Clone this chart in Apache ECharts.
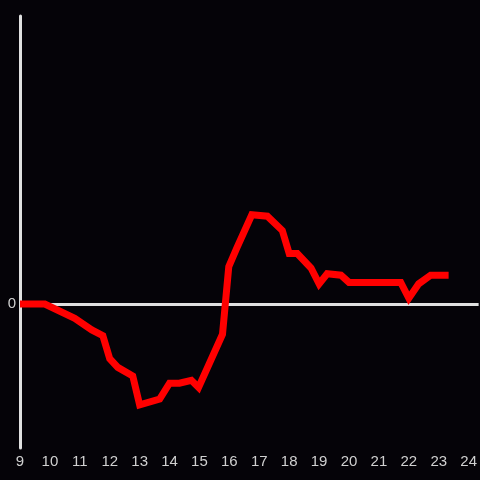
<!DOCTYPE html>
<html><head><meta charset="utf-8">
<script src="https://cdn.jsdelivr.net/npm/echarts@6/dist/echarts.min.js"></script>
<style>html,body{margin:0;padding:0;background:#050308}#c{width:480px;height:480px}</style>
</head><body><div id="c"></div>
<script>
const hours = [9.0, 9.83, 10.83, 11.4, 11.77, 12.0, 12.27, 12.77, 13.0, 13.67, 14.0, 14.33, 14.73, 14.97, 15.77, 15.98, 16.25, 16.75, 17.27, 17.77, 18.0, 18.27, 18.73, 19.0, 19.27, 19.73, 20.0, 21.73, 22.0, 22.33, 22.73, 23.33];
const values = [0, 0, -0.10, -0.18, -0.22, -0.38, -0.44, -0.50, -0.70, -0.66, -0.55, -0.55, -0.53, -0.58, -0.21, 0.26, 0.39, 0.62, 0.61, 0.51, 0.35, 0.35, 0.25, 0.14, 0.21, 0.20, 0.15, 0.15, 0.04, 0.14, 0.20, 0.20];
const xTicks = [9,10,11,12,13,14,15,16,17,18,19,20,21,22,23,24];
const yLabels = [0];

const chart = echarts.init(document.getElementById('c'), null, {renderer:'canvas'});
chart.setOption({
  backgroundColor:'#050308',
  animation:false,
  grid:{left:20,right:0,top:16,bottom:32,containLabel:false},
  xAxis:{type:'value',min:9,max:24+1/3,interval:1,
    axisLine:{show:false},axisTick:{show:false},splitLine:{show:false},
    axisLabel:{color:'#d0d0d0',fontSize:15,fontFamily:'Liberation Sans, Arial, sans-serif',margin:6,
      showMaxLabel:false,
      formatter:v=>xTicks.includes(Math.round(v*1000)/1000)?String(v):''}},
  yAxis:{type:'value',min:-1,max:2,interval:1,
    axisLine:{show:true,onZero:false,lineStyle:{color:'#e0e0e0',width:3}},
    axisTick:{show:false},splitLine:{show:false},
    axisLabel:{color:'#d0d0d0',fontSize:15,fontFamily:'Liberation Sans, Arial, sans-serif',margin:4,
      padding:[3,0,0,0],
      formatter:v=>yLabels.includes(v)?String(v):''}},
  series:[{type:'line',data:hours.map((h,i)=>[h,values[i]]),
    showSymbol:false,symbol:'none',
    lineStyle:{color:'#ff0000',width:7,join:'miter'},
    markLine:{silent:true,symbol:'none',label:{show:false},z:1,
      lineStyle:{color:'#e0e0e0',width:3,type:'solid'},data:[{yAxis:0}]},
    z:3}]
});
</script></body></html>
